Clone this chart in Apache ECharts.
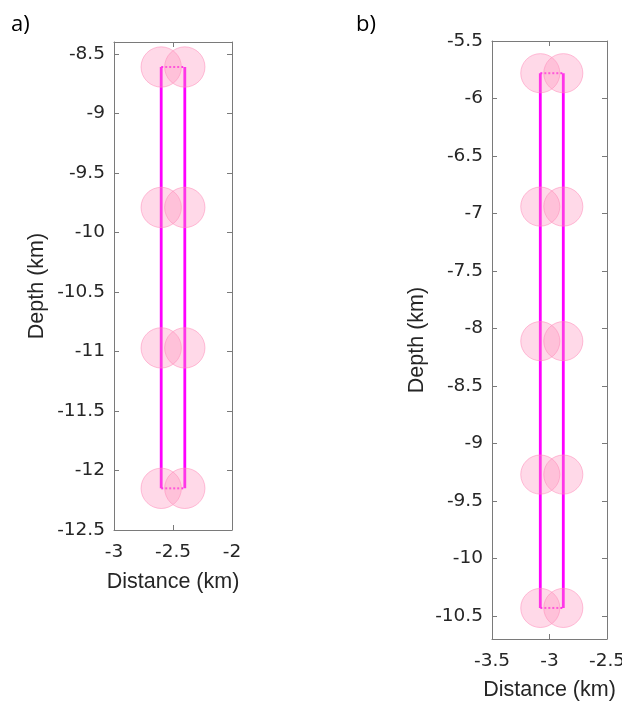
<!DOCTYPE html>
<html>
<head>
<meta charset="utf-8">
<script src="https://cdn.jsdelivr.net/npm/echarts@6/dist/echarts.min.js"></script>
<style>html,body{margin:0;padding:0;background:#fff;}#c{width:622px;height:702px;}</style>
</head>
<body>
<div id="c"></div>
<script>
// ---- data ----
const xA = [-2.6, -2.4];
const depthsA = [-8.61, -9.79, -10.97, -12.15];
const xB = [-3.08, -2.88];
const depthsB = [-5.78, -6.94, -8.11, -9.27, -10.43];
const radiusKm = 0.17;
const xTicksA = [-3, -2.5, -2];
const yTicksA = [-12.5, -12, -11.5, -11, -10.5, -10, -9.5, -9, -8.5];
const xTicksB = [-3.5, -3, -2.5];
const yTicksB = [-10.5, -10, -9.5, -9, -8.5, -8, -7.5, -7, -6.5, -6, -5.5];
const rangeA = {x: [-3, -2], y: [-12.5, -8.4]};
const rangeB = {x: [-3.5, -2.5], y: [-10.7, -5.5]};

const chart = echarts.init(document.getElementById('c'), null, {renderer: 'canvas'});
const FONT = 'Liberation Sans, Arial, Helvetica, sans-serif';
const TICKFONT = 'DejaVu Sans, sans-serif';
const boxColor = '#7a7a7a';
const txt = '#262626';
const fmt = v => String(parseFloat(Number(v).toFixed(2)));

function axis(kind, grid, pos, range, ticks, showLabel, name, gap) {
  return {
    type: 'value', gridIndex: grid, position: pos,
    min: range[0], max: range[1],
    name: name || '', nameLocation: 'middle', nameGap: gap || 0,
    nameTextStyle: {fontFamily: FONT, fontSize: 21.5, color: txt},
    axisLine: {show: true, onZero: false, lineStyle: {color: boxColor, width: 1}},
    axisTick: {show: true, inside: true, length: 5, customValues: ticks, lineStyle: {color: boxColor}},
    axisLabel: {show: showLabel, customValues: ticks, formatter: fmt,
      fontFamily: TICKFONT, fontSize: 18.5, color: txt, margin: kind === 'x' ? 13 : 9},
    splitLine: {show: false}
  };
}

function panel(xs, depths, xi, yi) {
  const series = [];
  const top = depths[0], bot = depths[depths.length - 1];
  xs.forEach(x => series.push({
    type: 'line', xAxisIndex: xi, yAxisIndex: yi, symbol: 'none', z: 2,
    lineStyle: {color: '#ff00ff', width: 2.8}, data: [[x, top], [x, bot]]
  }));
  [top, bot].forEach(d => series.push({
    type: 'line', xAxisIndex: xi, yAxisIndex: yi, symbol: 'none', z: 2,
    lineStyle: {color: '#ff00ff', width: 2, type: [2, 2]}, data: [[xs[0], d], [xs[1], d]]
  }));
  const pts = [];
  depths.forEach(d => xs.forEach(x => pts.push([x, d])));
  series.push({
    type: 'custom', xAxisIndex: xi, yAxisIndex: yi, z: 3, clip: false,
    data: pts,
    renderItem: (params, api) => {
      const c = api.coord([api.value(0), api.value(1)]);
      const s = api.size([radiusKm, radiusKm]);
      return {type: 'circle', shape: {cx: c[0], cy: c[1], r: (s[0] + s[1]) / 2},
        style: {fill: 'rgba(255,150,192,0.36)', stroke: 'rgba(255,140,185,0.55)', lineWidth: 1}};
    }
  });
  return series;
}

const option = {
  animation: false,
  backgroundColor: '#fff',
  grid: [
    {left: 114, top: 42, width: 118, height: 488, containLabel: false, outerBoundsMode: 'none'},
    {left: 492, top: 41, width: 115, height: 598, containLabel: false, outerBoundsMode: 'none'}
  ],
  xAxis: [
    axis('x', 0, 'bottom', rangeA.x, xTicksA, true, 'Distance (km)', 41),
    axis('x', 0, 'top', rangeA.x, xTicksA, false),
    axis('x', 1, 'bottom', rangeB.x, xTicksB, true, 'Distance (km)', 40),
    axis('x', 1, 'top', rangeB.x, xTicksB, false)
  ],
  yAxis: [
    axis('y', 0, 'left', rangeA.y, yTicksA, true, 'Depth (km)', 66),
    axis('y', 0, 'right', rangeA.y, yTicksA, false),
    axis('y', 1, 'left', rangeB.y, yTicksB, true, 'Depth (km)', 64),
    axis('y', 1, 'right', rangeB.y, yTicksB, false)
  ],
  graphic: [
    {type: 'text', left: 11, top: 14, style: {text: 'a)', fontFamily: 'Open Sans, Liberation Sans, sans-serif', fontSize: 22, fill: '#000'}},
    {type: 'text', left: 356, top: 14, style: {text: 'b)', fontFamily: 'Open Sans, Liberation Sans, sans-serif', fontSize: 22, fill: '#000'}}
  ],
  series: [].concat(panel(xA, depthsA, 0, 0), panel(xB, depthsB, 2, 2))
};
chart.setOption(option);
</script>
</body>
</html>
